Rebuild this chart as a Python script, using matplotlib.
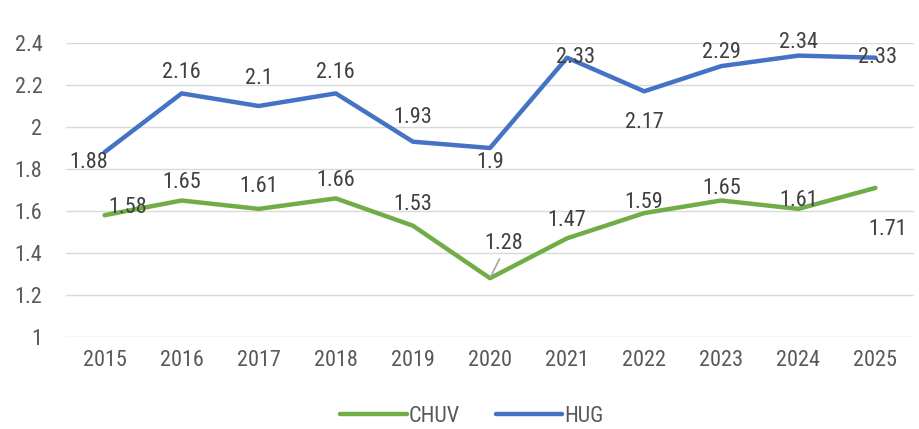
import matplotlib
matplotlib.use("Agg")
import matplotlib.pyplot as plt
from matplotlib import font_manager

years = ["2015", "2016", "2017", "2018", "2019", "2020", "2021", "2022", "2023", "2024", "2025"]
chuv = [1.58, 1.65, 1.61, 1.66, 1.53, 1.28, 1.47, 1.59, 1.65, 1.61, 1.71]
hug = [1.88, 2.16, 2.10, 2.16, 1.93, 1.90, 2.33, 2.17, 2.29, 2.34, 2.33]
yticks = [1, 1.2, 1.4, 1.6, 1.8, 2, 2.2, 2.4]
ytick_labels = ["1", "1.2", "1.4", "1.6", "1.8", "2", "2.2", "2.4"]

# label offsets in pixels (dx, dy; dy positive = up)
hug_off = [(-16, -10), (0, 21), (0, 27), (0, 21), (0, 24), (0, -15), (8, 0), (0, -31), (0, 14), (0, 13), (2, 0)]
chuv_off = [(23, 8), (0, 18), (0, 22), (0, 18), (0, 21), (14, 35), (0, 18), (0, 11), (0, 12), (0, 8), (12, -42)]

names = set(f.name for f in font_manager.fontManager.ttflist)
if "Liberation Sans Narrow" in names:
    fam, FS = "Liberation Sans Narrow", 15
elif "Roboto Condensed" in names:
    fam, FS = "Roboto Condensed", 16
else:
    fam, FS = "Liberation Sans", 14
plt.rcParams["font.family"] = [fam, "DejaVu Sans"]

GREEN = "#70AD47"
BLUE = "#4472C4"
TXT = "#595959"
LBL = "#404040"

W, H = 919, 429
fig = plt.figure(figsize=(W / 100, H / 100), dpi=100)
left, right, top, bottom = 66, 914, 43, 337
ax = fig.add_axes([left / W, 1 - bottom / H, (right - left) / W, (bottom - top) / H])

x = list(range(len(years)))
ax.plot(x, chuv, color=GREEN, lw=3.2, solid_capstyle="round", solid_joinstyle="round", label="CHUV", zorder=3)
ax.plot(x, hug, color=BLUE, lw=3.2, solid_capstyle="round", solid_joinstyle="round", label="HUG", zorder=3)

ax.set_xlim(-0.5, len(years) - 0.5)
ax.set_ylim(1, 2.4)
ax.set_yticks(yticks)
ax.set_yticklabels(ytick_labels)
ax.set_xticks(x)
ax.set_xticklabels(years)
for s in ax.spines.values():
    s.set_visible(False)
ax.grid(axis="y", color="#D9D9D9", lw=1.0, zorder=0)
ax.tick_params(axis="both", length=0, labelsize=FS, colors=TXT)
ax.tick_params(axis="y", pad=17)
ax.tick_params(axis="x", pad=9)

k = 0.72
for i, v in enumerate(hug):
    dx, dy = hug_off[i]
    ax.annotate(f"{v:g}", (i, v), xytext=(dx * k, dy * k), textcoords="offset points",
                ha="center", va="center", fontsize=FS, color=LBL, zorder=4)
for i, v in enumerate(chuv):
    dx, dy = chuv_off[i]
    if i == 5:
        ax.annotate(f"{v:g}", (i, v), xytext=(dx * k, dy * k), textcoords="offset points",
                    ha="center", va="center", fontsize=FS, color=LBL, zorder=4,
                    arrowprops=dict(arrowstyle="-", color="#A6A6A6", lw=1.2, shrinkA=2, shrinkB=1,
                                    relpos=(0.45, 0.0)))
    else:
        ax.annotate(f"{v:g}", (i, v), xytext=(dx * k, dy * k), textcoords="offset points",
                    ha="center", va="center", fontsize=FS, color=LBL, zorder=4)

leg = fig.legend(loc="center", bbox_to_anchor=(472 / W, 1 - 416 / H), ncol=2, frameon=False,
                 fontsize=FS, handlelength=3.0, handletextpad=0.1, columnspacing=1.6)
for t in leg.get_texts():
    t.set_color(TXT)

fig.savefig("out.png", dpi=100)
